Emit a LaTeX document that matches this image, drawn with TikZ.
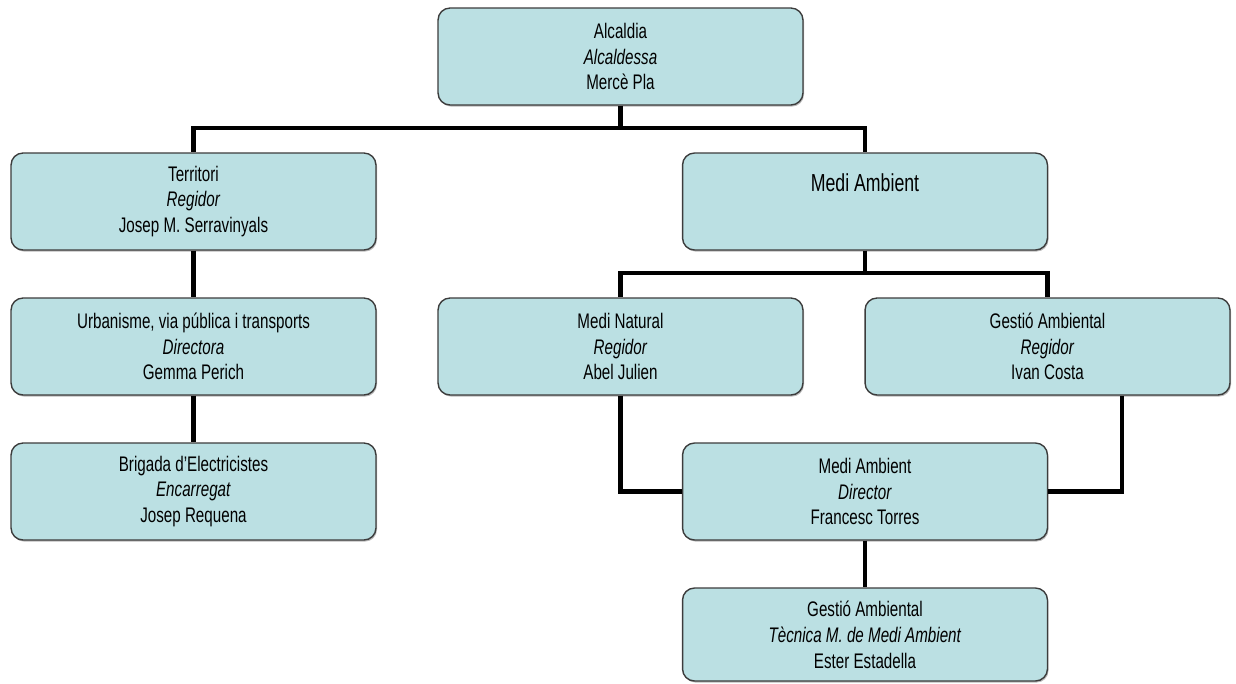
\documentclass[tikz,border=0pt]{standalone}
\usepackage{fontspec}
\setmainfont[FakeStretch=0.72]{Liberation Sans}
\usetikzlibrary{shadows}

\definecolor{boxfill}{HTML}{BBE0E3}
\definecolor{boxline}{HTML}{3C3C3C}

\tikzset{
  unit/.style={draw=boxline, line width=0.8pt, fill=boxfill, rounded corners=0.24cm,
    minimum width=7.3cm, minimum height=1.94cm, align=center,
    font=\fontsize{12}{14.7}\selectfont,
    drop shadow={shadow xshift=0.6pt, shadow yshift=-0.9pt, fill=black!45, opacity=0.6}},
  link/.style={line width=2.3pt, black}
}

\begin{document}
\begin{tikzpicture}[x=0.02cm,y=-0.02cm]
\useasboundingbox (0,0) rectangle (1236,683);

% The units
\node[unit] (alc) at (620.5,56.5) {Alcaldia\\\textit{Alcaldessa}\\Mercè Pla};
\node[unit] (ter) at (193.5,201.5) {Territori\\\textit{Regidor}\\Josep M. Serravinyals};
\node[unit] (mam) at (865,201.5) {};
\node[font=\fontsize{14}{17}\selectfont] (mamtxt) at (865,183) {Medi Ambient};
\node[unit] (urb) at (193.5,346.5) {Urbanisme, via pública i transports\\\textit{Directora}\\Gemma Perich};
\node[unit] (mnat) at (620.5,346.5) {Medi Natural\\\textit{Regidor}\\Abel Julien};
\node[unit] (gest) at (1047.5,346.5) {Gestió Ambiental\\\textit{Regidor}\\Ivan Costa};
\node[unit] (brig) at (193.5,491.5) {Brigada d'Electricistes\\\textit{Encarregat}\\Josep Requena};
\node[unit] (dir) at (865,491.5) {Medi Ambient\\\textit{Director}\\Francesc Torres};
\node[unit, minimum height=1.86cm] (tec) at (865,634.5) {Gestió Ambiental\\\textit{Tècnica M. de Medi Ambient}\\Ester Estadella};

% Bus lines
\coordinate (bustop) at (0,128);
\coordinate (busma) at (0,273);
\coordinate (gtap) at (1122,0);

% The connectors
\draw[link] (alc.south) -- (alc.south |- bustop) -| (ter.north);
\draw[link] (alc.south |- bustop) -| (mam.north);
\draw[link] (ter.south) -- (urb.north);
\draw[link] (urb.south) -- (brig.north);
\draw[link] (mam.south) -- (mam.south |- busma) -| (mnat.north);
\draw[link] (mam.south |- busma) -| (gest.north);
\draw[link] (mnat.south) |- (dir.west);
\draw[link] (gest.south -| gtap) |- (dir.east);
\draw[link] (dir.south) -- (tec.north);
\end{tikzpicture}
\end{document}
